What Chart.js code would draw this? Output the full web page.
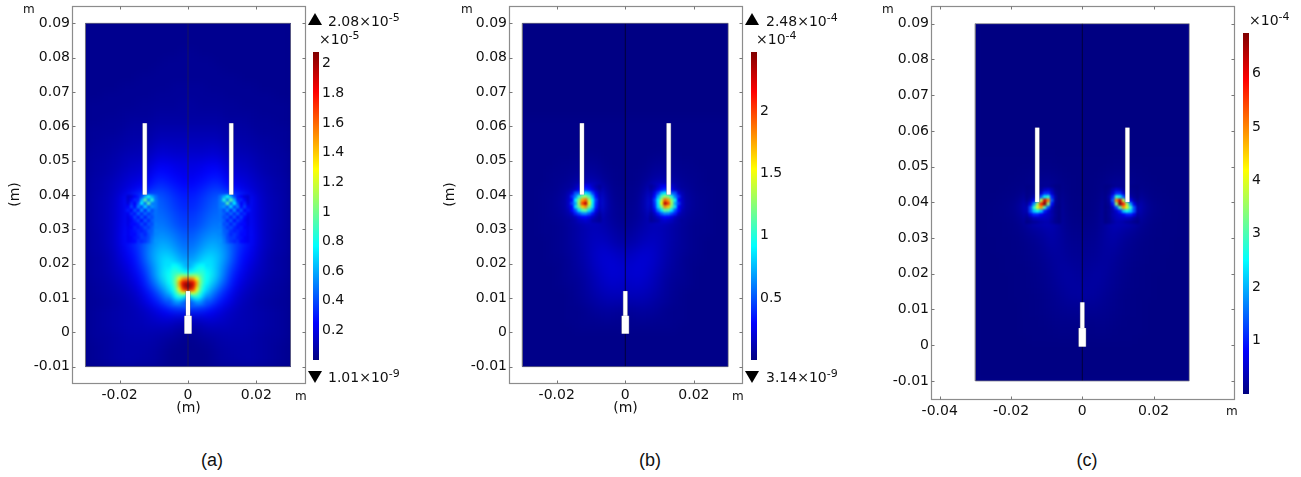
<!DOCTYPE html>
<html>
<head>
<meta charset="utf-8">
<title>Field plots</title>
<script src="https://cdn.jsdelivr.net/npm/chart.js@4/dist/chart.umd.min.js"></script>
<style>
  body { margin: 0; background: #fff; }
  #page { position: relative; width: 1301px; height: 477px; overflow: hidden; font-family: "DejaVu Sans", sans-serif; color: #111; }
  canvas { position: absolute; }
  .t { position: absolute; font-size: 14px; line-height: 16px; white-space: nowrap; }
  .t sup { font-size: 11px; line-height: 0; vertical-align: 5px; }
  .unit { position: absolute; font-size: 12px; line-height: 14px; }
  .cap { position: absolute; font-family: "Liberation Sans", sans-serif; font-size: 18px; line-height: 20px; transform: translateX(-50%); top: 450px; }
  .up, .down { position: absolute; width: 0; height: 0; border-left: 7.5px solid transparent; border-right: 7.5px solid transparent; }
  .up { border-bottom: 12px solid #000; }
  .down { border-top: 12px solid #000; }
</style>
</head>
<body>
<div id="page">
  <canvas id="fieldA" width="310" height="430" style="left:0;top:0"></canvas>
  <canvas id="fieldB" width="310" height="430" style="left:437px;top:0"></canvas>
  <canvas id="fieldC" width="370" height="430" style="left:870px;top:0"></canvas>
  <canvas id="barA" width="60" height="332" style="left:313px;top:40px"></canvas>
  <canvas id="barB" width="60" height="332" style="left:751px;top:40px"></canvas>
  <canvas id="barC" width="50" height="385" style="left:1243px;top:21px"></canvas>

  <div class="up" style="left:308px;top:13px"></div>
  <div class="t" style="left:328px;top:13px">2.08×10<sup>-5</sup></div>
  <div class="t" style="left:319px;top:31px">×10<sup>-5</sup></div>
  <div class="down" style="left:308px;top:371px"></div>
  <div class="t" style="left:328px;top:369px">1.01×10<sup>-9</sup></div>
  <div class="unit" style="left:23px;top:2px">m</div>
  <div class="unit" style="left:295px;top:389px">m</div>

  <div class="up" style="left:745px;top:13px"></div>
  <div class="t" style="left:766px;top:13px">2.48×10<sup>-4</sup></div>
  <div class="t" style="left:756px;top:31px">×10<sup>-4</sup></div>
  <div class="down" style="left:745px;top:371px"></div>
  <div class="t" style="left:766px;top:369px">3.14×10<sup>-9</sup></div>
  <div class="unit" style="left:461px;top:2px">m</div>
  <div class="unit" style="left:732px;top:389px">m</div>

  <div class="t" style="left:1249px;top:12px">×10<sup>-4</sup></div>
  <div class="unit" style="left:882px;top:2px">m</div>
  <div class="unit" style="left:1226px;top:404px">m</div>

  <div class="cap" style="left:212px">(a)</div>
  <div class="cap" style="left:650px">(b)</div>
  <div class="cap" style="left:1087px">(c)</div>
</div>
<script>
// tick labels
const xTicksAB = [-0.02, 0, 0.02];
const xTicksC = [-0.04, -0.02, 0, 0.02];
const yTicks = [-0.01, 0, 0.01, 0.02, 0.03, 0.04, 0.05, 0.06, 0.07, 0.08, 0.09];
const barTicksA = [0.2, 0.4, 0.6, 0.8, 1, 1.2, 1.4, 1.6, 1.8, 2];
const barTicksB = [0.5, 1, 1.5, 2];
const barTicksC = [1, 2, 3, 4, 5, 6];
const barMaxA = 2.08, barMaxB = 2.48, barMaxC = 6.76;

const gridX = [-0.02875, -0.02625, -0.02375, -0.02125, -0.01875, -0.01625, -0.01375, -0.01125, -0.00875, -0.00625, -0.00375, -0.00125];
const gridY = [0.08875, 0.08625, 0.08375, 0.08125, 0.07875, 0.07625, 0.07375, 0.07125, 0.06875, 0.06625, 0.06375, 0.06125, 0.05875, 0.05625, 0.05375, 0.05125, 0.04875, 0.04625, 0.04375, 0.04125, 0.03875, 0.03625, 0.03375, 0.03125, 0.02875, 0.02625, 0.02375, 0.02125, 0.01875, 0.01625, 0.01375, 0.01125, 0.00875, 0.00625, 0.00375, 0.00125, -0.00125, -0.00375, -0.00625, -0.00875];

// values in hundredths of the colorbar unit
const fieldA = [
  [3,3,3,3,3,3,3,3,3,3,3,3],
  [3,3,3,3,3,3,3,3,3,3,3,3],
  [3,3,3,3,3,3,3,3,3,3,3,3],
  [3,3,3,3,3,3,3,3,3,3,3,4],
  [3,3,3,3,3,3,3,3,3,4,4,4],
  [3,3,3,3,3,3,3,3,4,4,4,4],
  [3,3,3,3,3,3,4,4,4,4,4,4],
  [3,3,3,3,4,4,4,4,4,4,5,5],
  [3,3,4,4,4,4,4,4,5,5,5,5],
  [4,4,4,4,4,4,5,5,5,5,5,6],
  [4,4,4,4,5,5,5,5,6,6,6,6],
  [4,4,5,5,5,6,6,6,7,7,7,7],
  [5,5,5,5,6,7,7,7,9,9,9,9],
  [5,5,6,6,7,8,8,8,11,11,11,11],
  [5,6,6,7,8,9,10,10,14,14,13,13],
  [6,6,7,8,10,11,11,13,17,17,16,16],
  [6,7,8,9,11,13,14,16,22,22,20,19],
  [6,7,8,10,13,15,16,20,27,26,23,21],
  [7,8,10,12,15,18,20,25,32,30,27,24],
  [7,8,10,13,17,21,26,32,38,36,31,28],
  [7,9,11,14,22,32,45,50,44,40,35,31],
  [7,9,11,15,21,31,40,44,46,42,37,33],
  [7,9,11,15,21,30,38,42,48,45,40,36],
  [7,9,11,15,22,30,38,44,50,48,42,38],
  [7,8,11,15,23,31,38,46,54,52,48,42],
  [7,8,11,15,23,30,38,48,58,58,52,46],
  [7,8,10,14,21,28,38,52,62,64,58,50],
  [6,7,9,13,19,25,36,52,64,72,66,56],
  [6,7,9,12,16,22,32,46,62,74,76,66],
  [6,7,8,11,14,19,27,42,62,80,84,82],
  [5,6,7,9,12,16,23,36,52,70,92,120],
  [5,6,7,8,10,13,18,28,40,56,74,92],
  [5,5,6,7,9,11,15,22,30,42,54,56],
  [5,6,7,8,9,10,12,15,20,25,30,30],
  [5,6,7,8,9,10,11,13,15,17,15,13],
  [5,6,7,8,9,10,10,11,11,11,9,7],
  [5,6,6,7,8,9,9,9,8,7,6,4],
  [4,5,6,7,8,8,8,8,7,5,4,3],
  [4,5,6,7,8,8,8,7,6,4,3,3],
  [4,5,6,7,8,8,7,7,6,4,3,3]
];

const centreXA = [-0.0055, -0.0045, -0.0035, -0.0025, -0.0015, -0.0005];
const centreYA = [0.0195, 0.0185, 0.0175, 0.0165, 0.0155, 0.0145, 0.0135, 0.0125, 0.0115, 0.0105, 0.0095, 0.0085];
const centreA = [
  [70,76,76,72,66,60],
  [74,80,82,78,72,66],
  [76,84,86,84,80,76],
  [78,86,94,104,108,104],
  [78,86,102,128,150,156],
  [76,86,104,148,185,195],
  [72,82,100,145,190,208],
  [68,78,96,130,170,190],
  [62,72,88,108,125,120],
  [54,64,78,88,85,70],
  [46,54,64,68,62,50],
  [40,46,52,52,46,40]
];

const speckleXA = [-0.0175, -0.0165, -0.0155, -0.0145, -0.0135, -0.0125, -0.0115, -0.0105, -0.0095];
const speckleYA = [0.0395, 0.0385, 0.0375, 0.0365, 0.0355, 0.0345, 0.0335, 0.0325, 0.0315, 0.0305, 0.0295, 0.0285, 0.0275, 0.0265];
const speckleA = [
  [16,18,24,30,40,60,80,60,48],
  [16,24,32,32,60,95,50,85,50],
  [18,32,24,42,75,45,95,50,50],
  [24,38,26,52,38,70,42,56,50],
  [30,24,42,30,56,32,56,40,48],
  [22,34,28,46,32,48,36,44,48],
  [20,26,38,28,44,30,44,40,48],
  [20,24,30,38,26,44,32,44,48],
  [20,26,26,30,40,30,42,40,50],
  [22,24,30,28,32,40,36,44,50],
  [22,26,28,32,30,34,42,44,52],
  [22,26,26,32,36,32,40,46,52],
  [22,24,28,30,36,36,40,48,54],
  [22,24,26,34,32,36,42,50,56]
];

const fieldB = [
  [1,1,1,1,1,1,1,1,1,1,1,1],
  [1,1,1,1,1,1,1,1,1,1,1,1],
  [1,1,1,1,1,1,1,1,1,1,1,1],
  [1,1,1,1,1,1,1,1,1,1,1,1],
  [1,1,1,1,1,1,1,1,1,1,1,1],
  [1,1,1,1,1,1,1,1,1,1,1,1],
  [1,1,1,1,1,1,1,1,1,1,1,1],
  [1,1,1,1,1,1,1,1,1,1,1,1],
  [1,1,1,1,1,1,1,1,1,1,1,1],
  [1,1,1,1,1,1,1,1,1,1,1,1],
  [1,1,1,1,1,1,1,1,1,1,1,1],
  [2,2,2,2,2,2,2,2,2,2,2,2],
  [2,2,2,2,2,2,2,2,2,2,2,2],
  [2,2,2,2,2,2,2,2,2,2,2,2],
  [2,2,2,2,2,2,2,2,2,2,2,2],
  [2,2,2,2,2,2,3,3,3,2,2,2],
  [2,2,2,2,3,3,4,5,5,3,2,2],
  [2,2,2,3,3,4,5,7,7,4,3,2],
  [2,2,2,3,4,5,9,12,10,6,3,2],
  [2,2,3,3,5,8,16,28,22,10,4,3],
  [2,2,3,4,6,12,30,60,40,14,5,3],
  [2,2,3,4,6,12,30,60,40,14,6,4],
  [2,2,3,4,5,8,14,22,18,10,6,4],
  [2,2,3,3,4,6,9,12,13,11,8,5],
  [2,2,3,3,4,6,9,12,14,13,10,7],
  [2,2,2,3,4,6,9,12,15,15,12,9],
  [2,2,2,3,4,6,8,12,16,18,16,13],
  [2,2,2,3,3,5,8,11,16,19,19,16],
  [2,2,2,2,3,5,7,10,15,18,20,18],
  [2,2,2,2,3,5,6,9,13,17,19,18],
  [2,2,2,2,3,4,5,8,12,15,17,16],
  [2,2,2,2,2,3,5,7,10,13,14,14],
  [2,2,2,2,2,3,4,6,8,10,11,10],
  [2,2,2,2,2,3,3,4,6,7,7,6],
  [2,2,2,2,2,3,3,4,4,5,5,4],
  [2,2,2,2,2,2,3,3,3,3,3,3],
  [2,2,2,2,2,2,2,2,2,2,2,2],
  [2,2,2,2,2,2,2,2,2,2,2,2],
  [2,2,2,2,2,2,2,2,2,2,2,2],
  [2,2,2,2,2,2,2,2,2,2,2,2]
];

const hotXB = [-0.0165, -0.0155, -0.0145, -0.0135, -0.0125, -0.0115, -0.0105, -0.0095, -0.0085, -0.0075];
const hotYB = [0.0425, 0.0415, 0.0405, 0.0395, 0.0385, 0.0375, 0.0365, 0.0355, 0.0345, 0.0335, 0.0325];
const hotB = [
  [6,8,12,18,22,28,24,16,10,6],
  [8,12,16,26,34,42,34,24,14,8],
  [12,20,50,54,84,88,76,46,24,12],
  [14,40,60,100,125,130,110,72,32,14],
  [16,30,90,125,175,190,135,90,44,16],
  [16,44,70,130,200,235,150,88,40,16],
  [16,30,85,120,165,180,125,85,36,14],
  [12,30,50,85,110,115,85,60,26,12],
  [10,16,36,48,62,64,52,34,16,8],
  [8,10,14,22,28,30,24,16,10,6],
  [6,8,10,14,16,18,16,10,8,6]
];

const fieldC = [
  [1,1,1,1,1,1,1,1,1,1,1,1],
  [1,1,1,1,1,1,1,1,1,1,1,1],
  [1,1,1,1,1,1,1,1,1,1,1,1],
  [1,1,1,1,1,1,1,1,1,1,1,1],
  [1,1,1,1,1,1,1,1,1,1,1,1],
  [1,1,1,1,1,1,1,1,1,1,1,1],
  [1,1,1,1,1,1,1,1,1,1,1,1],
  [1,1,1,1,1,1,1,1,1,1,1,1],
  [1,1,1,1,1,1,1,1,1,1,1,1],
  [1,1,1,1,1,1,1,1,1,1,1,1],
  [1,1,1,1,1,1,1,1,1,1,1,1],
  [1,1,1,1,1,1,1,1,1,1,1,1],
  [1,1,1,1,1,1,1,1,1,1,1,1],
  [1,1,1,1,1,1,1,1,1,1,1,1],
  [1,1,1,1,1,1,1,2,2,1,1,1],
  [2,2,2,2,2,2,2,3,3,2,2,2],
  [2,2,2,2,2,3,4,5,5,3,2,2],
  [2,2,2,2,3,4,6,10,10,5,3,2],
  [2,2,2,3,4,6,10,16,16,7,3,2],
  [2,2,3,4,6,14,30,50,40,12,4,3],
  [2,3,4,6,10,30,80,100,60,16,5,3],
  [2,3,4,5,8,20,50,55,40,18,6,4],
  [2,3,3,4,6,12,24,30,34,18,8,6],
  [2,3,3,4,5,8,14,20,28,20,10,8],
  [2,2,3,3,4,6,10,15,24,20,12,10],
  [2,2,3,3,4,5,8,12,20,20,14,12],
  [2,2,2,3,3,5,7,10,16,20,16,14],
  [2,2,2,3,3,4,6,9,14,20,20,16],
  [2,2,2,2,3,4,5,8,12,18,22,18],
  [2,2,2,2,3,4,5,7,11,16,20,20],
  [2,2,2,2,3,3,4,6,9,13,18,20],
  [2,2,2,2,2,3,4,5,8,11,14,14],
  [2,2,2,2,2,3,4,5,7,9,10,10],
  [2,2,2,2,2,3,3,4,5,7,7,6],
  [2,2,2,2,2,3,3,3,4,5,5,4],
  [2,2,2,2,2,2,3,3,3,3,3,3],
  [2,2,2,2,2,2,2,2,2,2,2,2],
  [2,2,2,2,2,2,2,2,2,2,2,2],
  [2,2,2,2,2,2,2,2,2,2,2,2],
  [2,2,2,2,2,2,2,2,2,2,2,2]
];

const hotXC = [-0.0155, -0.0145, -0.0135, -0.0125, -0.0115, -0.0105, -0.0095, -0.0085, -0.0075, -0.0065];
const hotYC = [0.0445, 0.0435, 0.0425, 0.0415, 0.0405, 0.0395, 0.0385, 0.0375, 0.0365, 0.0355, 0.0345];
const hotC = [
  [3,4,6,8,10,12,12,8,4,3],
  [4,6,8,12,20,40,50,30,8,4],
  [5,8,12,20,50,110,110,50,14,5],
  [6,12,25,60,140,240,280,100,25,6],
  [10,25,70,190,380,620,500,140,20,6],
  [20,60,180,360,560,670,340,90,14,5],
  [30,130,280,400,480,300,130,40,10,4],
  [30,130,220,260,210,100,50,26,12,4],
  [20,60,100,100,70,50,40,28,12,4],
  [10,20,36,40,40,40,36,24,10,4],
  [6,10,16,20,26,30,30,20,10,5]
];

// electrodes, metres
const rodX = [-0.01265, 0.01265];
const rodY = [0.0401, 0.0609];
const needleY = [0.0048, 0.012];
const blockY = [-0.0004, 0.0048];
const domainX = [-0.03, 0.03];
const domainY = [-0.01, 0.09];

const rampStops = [
  [0, [0, 0, 128]],
  [0.12, [0, 0, 255]],
  [0.37, [0, 255, 255]],
  [0.62, [255, 255, 0]],
  [0.87, [255, 0, 0]],
  [1, [128, 0, 0]]
];

function ramp(t) {
  t = Math.min(1, Math.max(0, t));
  for (let i = 1; i < rampStops.length; i++) {
    if (t <= rampStops[i][0]) {
      const [t0, c0] = rampStops[i - 1];
      const [t1, c1] = rampStops[i];
      const f = (t - t0) / (t1 - t0);
      return `rgb(${c0.map((c, k) => Math.round(c + (c1[k] - c) * f)).join(',')})`;
    }
  }
}

function cells(xs, ys, rows) {
  const out = [];
  ys.forEach((y, r) => xs.forEach((x, c) => {
    out.push({ x: x, y: y, v: rows[r][c] / 100 });
    out.push({ x: -x, y: y, v: rows[r][c] / 100 });
  }));
  return out;
}

function heatLayer(points, max, step, blur, order, last) {
  return {
    data: points,
    order: order,
    blur: blur,
    last: last,
    pointStyle: 'rect',
    pointBorderWidth: 0,
    pointRadius: (c) => {
      const s = c.chart.scales.x;
      return Math.abs(s.getPixelForValue(step) - s.getPixelForValue(0)) / 1.3;
    },
    pointBackgroundColor: (c) => ramp(c.raw ? c.raw.v / max : 0)
  };
}

function stroke(xs, ys, color, width, order) {
  return {
    data: xs.map((x, i) => ({ x: x, y: ys[i] })),
    showLine: true,
    pointRadius: 0,
    borderColor: color,
    borderWidth: width,
    order: order
  };
}

function electrodes() {
  const out = [];
  rodX.forEach((x) => {
    out.push(stroke([x, x], rodY, 'rgba(120,120,130,0.7)', 5, 3));
    out.push(stroke([x, x], rodY, '#fff', 4, 2));
  });
  out.push(stroke([0, 0], blockY, 'rgba(120,120,130,0.7)', 8, 3));
  out.push(stroke([0, 0], needleY, 'rgba(120,120,130,0.7)', 5, 3));
  out.push(stroke([0, 0], blockY, '#fff', 7, 2));
  out.push(stroke([0, 0], needleY, '#fff', 4, 2));
  return out;
}

function domainBox(chart) {
  const { x, y } = chart.scales;
  const l = x.getPixelForValue(domainX[0]), r = x.getPixelForValue(domainX[1]);
  const t = y.getPixelForValue(domainY[1]), b = y.getPixelForValue(domainY[0]);
  return { l, r, t, b };
}

const heatPlugin = {
  id: 'heat',
  beforeDatasetsDraw(chart) {
    const a = chart.chartArea;
    chart.ctx.fillStyle = ramp(0.01);
    chart.ctx.fillRect(a.left, a.top, a.right - a.left, a.bottom - a.top);
  },
  afterDatasetDraw(chart, args) {
    const ds = chart.data.datasets[args.index];
    const ctx = chart.ctx;
    const d = domainBox(chart);
    if (ds.blur) {
      // soften what has been painted so far, inside the domain only
      ctx.save();
      ctx.beginPath();
      ctx.rect(d.l, d.t, d.r - d.l, d.b - d.t);
      ctx.clip();
      ctx.filter = `blur(${ds.blur}px)`;
      ctx.drawImage(chart.canvas, 0, 0);
      ctx.restore();
    }
    if (ds.last) {
      const a = chart.chartArea;
      ctx.clearRect(a.left, a.top, d.l - a.left, a.bottom - a.top);
      ctx.clearRect(d.r, a.top, a.right - d.r, a.bottom - a.top);
      ctx.clearRect(a.left, a.top, a.right - a.left, d.t - a.top);
      ctx.clearRect(a.left, d.b, a.right - a.left, a.bottom - d.b);
    }
  },
  afterDraw(chart) {
    // frame with short inward ticks on all four sides
    const a = chart.chartArea;
    const ctx = chart.ctx;
    const L = Math.round(a.left) + 0.5, R = Math.round(a.right) + 0.5;
    const T = Math.round(a.top) + 0.5, B = Math.round(a.bottom) + 0.5;
    ctx.save();
    ctx.strokeStyle = '#8c8c8c';
    ctx.lineWidth = 1.2;
    ctx.strokeRect(L, T, R - L, B - T);
    ctx.lineWidth = 1;
    ctx.strokeStyle = '#777';
    ctx.beginPath();
    chart.scales.x.ticks.forEach((t) => {
      const px = Math.round(chart.scales.x.getPixelForValue(t.value)) + 0.5;
      ctx.moveTo(px, T); ctx.lineTo(px, T + 3);
      ctx.moveTo(px, B); ctx.lineTo(px, B - 3);
    });
    chart.scales.y.ticks.forEach((t) => {
      const py = Math.round(chart.scales.y.getPixelForValue(t.value)) + 0.5;
      ctx.moveTo(L, py); ctx.lineTo(L + 3, py);
      ctx.moveTo(R, py); ctx.lineTo(R - 3, py);
    });
    ctx.stroke();
    ctx.restore();
  }
};

const tickFont = { family: 'DejaVu Sans', size: 14 };

function fieldChart(id, o) {
  const sets = o.layers.slice();
  sets.push(stroke([0, 0], domainY, o.axisColor, 1, 4));
  sets.push(stroke([domainX[0], domainX[1], domainX[1], domainX[0], domainX[0]],
    [domainY[0], domainY[0], domainY[1], domainY[1], domainY[0]], 'rgba(110,110,130,0.8)', 1, 3));
  electrodes().forEach((e) => sets.push(e));
  new Chart(document.getElementById(id), {
    type: 'scatter',
    data: { datasets: sets },
    plugins: [heatPlugin],
    options: {
      responsive: false,
      animation: false,
      events: [],
      layout: { padding: { top: 6, right: o.padRight } },
      plugins: { legend: { display: false }, tooltip: { enabled: false } },
      scales: {
        x: {
          type: 'linear', min: o.xMin, max: o.xMax,
          grid: { display: false, drawTicks: false },
          border: { display: false },
          afterBuildTicks: (s) => { s.ticks = o.xTicks.map((v) => ({ value: v })); },
          afterFit: (s) => { s.height = 430 - o.bottom; s.paddingLeft = 0; s.paddingRight = 0; },
          ticks: { font: tickFont, color: '#111', padding: 4, maxRotation: 0, autoSkip: false, callback: (v) => String(v) },
          title: { display: o.titled, text: '(m)', font: tickFont, color: '#111', padding: { top: 0, bottom: 13.6 } }
        },
        y: {
          type: 'linear', min: o.yMin, max: o.yMax,
          grid: { display: false, drawTicks: false },
          border: { display: false },
          afterBuildTicks: (s) => { s.ticks = yTicks.map((v) => ({ value: v })); },
          afterFit: (s) => { s.width = o.left; s.paddingTop = 0; s.paddingBottom = 0; },
          ticks: { font: tickFont, color: '#111', padding: 2, autoSkip: false, callback: (v) => String(v) },
          title: { display: o.titled, text: '(m)', font: tickFont, color: '#111', padding: { top: o.titlePad, bottom: 0 } }
        }
      }
    }
  });
}

function colorBar(id, max, ticks) {
  new Chart(document.getElementById(id), {
    type: 'bar',
    data: {
      labels: ['field'],
      datasets: [{
        data: [[0, max]],
        categoryPercentage: 1,
        barPercentage: 1,
        backgroundColor: (c) => {
          const a = c.chart.chartArea;
          if (!a) return '#00f';
          const g = c.chart.ctx.createLinearGradient(0, a.bottom, 0, a.top);
          rampStops.forEach(([t, rgb]) => g.addColorStop(t, `rgb(${rgb.join(',')})`));
          return g;
        }
      }]
    },
    options: {
      responsive: false,
      animation: false,
      events: [],
      layout: { padding: { top: 12, bottom: 12 } },
      plugins: { legend: { display: false }, tooltip: { enabled: false } },
      scales: {
        x: { display: false },
        y: {
          position: 'right', min: 0, max: max,
          grid: { display: false, drawTicks: false },
          border: { display: false },
          afterBuildTicks: (s) => { s.ticks = ticks.map((v) => ({ value: v })); },
          afterFit: (s) => { s.width = s.chart.width - 6; s.paddingTop = 0; s.paddingBottom = 0; },
          ticks: { font: tickFont, color: '#111', padding: 3, autoSkip: false, callback: (v) => String(v) }
        }
      }
    }
  });
}

fieldChart('fieldA', {
  xMin: -0.03395, xMax: 0.03424, yMin: -0.01477, yMax: 0.09505,
  xTicks: xTicksAB, left: 72, padRight: 5, bottom: 383, titled: true, titlePad: 7,
  axisColor: 'rgba(30,30,70,0.65)',
  layers: [
    heatLayer(cells(speckleXA, speckleYA, speckleA), barMaxA, 0.001, 0.9, 5, true),
    heatLayer(cells(centreXA, centreYA, centreA), barMaxA, 0.001, 1.2, 6),
    heatLayer(cells(gridX, gridY, fieldA), barMaxA, 0.0025, 4, 7)
  ]
});
fieldChart('fieldB', {
  xMin: -0.03391, xMax: 0.03402, yMin: -0.01477, yMax: 0.09505,
  xTicks: xTicksAB, left: 72, padRight: 5, bottom: 383, titled: true, titlePad: 5,
  axisColor: 'rgba(0,0,40,0.8)',
  layers: [
    heatLayer(cells(hotXB, hotYB, hotB), barMaxB, 0.001, 1, 6, true),
    heatLayer(cells(gridX, gridY, fieldB), barMaxB, 0.0025, 4, 7)
  ]
});
fieldChart('fieldC', {
  xMin: -0.04244, xMax: 0.04255, yMin: -0.01506, yMax: 0.09496,
  xTicks: xTicksC, left: 61, padRight: 6, bottom: 399, titled: false, titlePad: 0,
  axisColor: 'rgba(0,0,40,0.8)',
  layers: [
    heatLayer(cells(hotXC, hotYC, hotC), barMaxC, 0.001, 1.2, 6, true),
    heatLayer(cells(gridX, gridY, fieldC), barMaxC, 0.0025, 4, 7)
  ]
});

colorBar('barA', barMaxA, barTicksA);
colorBar('barB', barMaxB, barTicksB);
colorBar('barC', barMaxC, barTicksC);
</script>
</body>
</html>
